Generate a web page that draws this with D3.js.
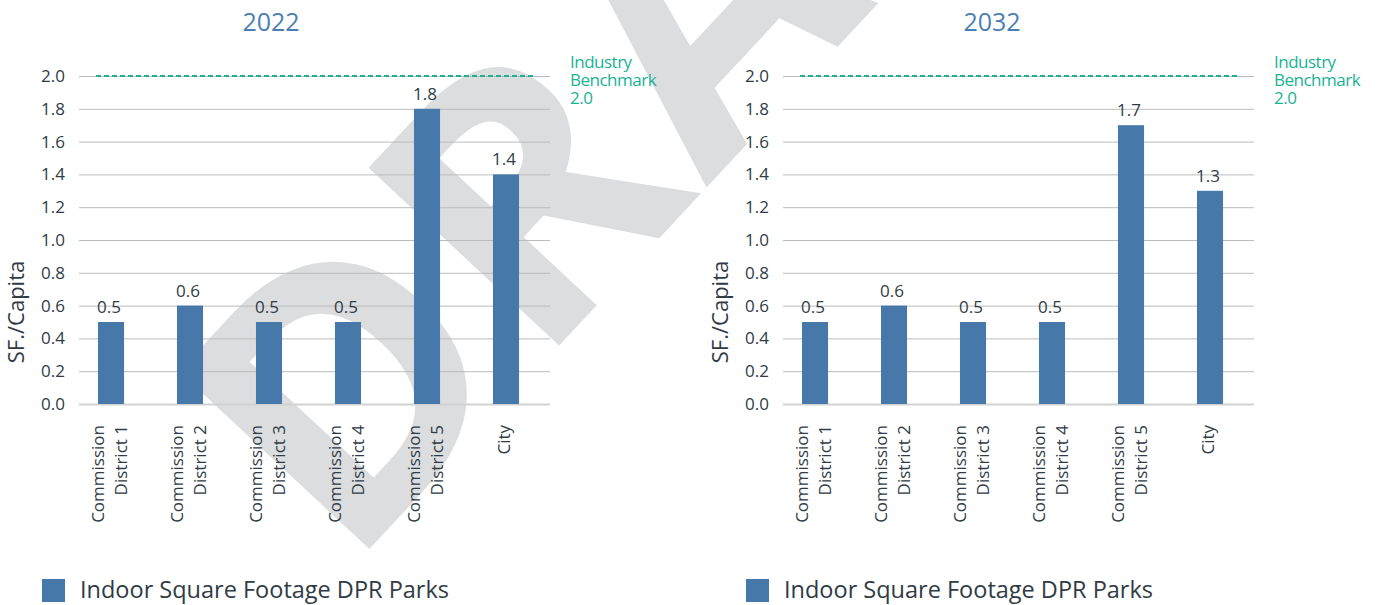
<!DOCTYPE html>
<html>
<head>
<meta charset="utf-8">
<script src="https://cdn.jsdelivr.net/npm/d3@7"></script>
<style>
  body { margin: 0; background: #fff; }
  svg { display: block; }
</style>
</head>
<body>
<svg id="chart" width="1380" height="605"></svg>
<script>
// ---- data ----
const categories = [
  "Commission District 1",
  "Commission District 2",
  "Commission District 3",
  "Commission District 4",
  "Commission District 5",
  "City"
];
const categoryLines = [
  ["Commission", "District 1"],
  ["Commission", "District 2"],
  ["Commission", "District 3"],
  ["Commission", "District 4"],
  ["Commission", "District 5"],
  ["City"]
];
const values2022 = [0.5, 0.6, 0.5, 0.5, 1.8, 1.4];
const values2032 = [0.5, 0.6, 0.5, 0.5, 1.7, 1.3];
const yTicks = [0, 0.2, 0.4, 0.6, 0.8, 1.0, 1.2, 1.4, 1.6, 1.8, 2.0];
const benchmarkValue = 2.0;
const benchmarkLines = ["Industry", "Benchmark", "2.0"];
const panelTitles = ["2022", "2032"];
const yAxisTitle = "SF./Capita";
const legendLabel = "Indoor Square Footage DPR Parks";
const watermarkText = "DRAFT";

// ---- style ----
const FONT = "'Open Sans', 'Noto Sans', sans-serif";
const BAR = "#4679aa";
const TITLE = "#4b7fb1";
const TEAL = "#19b394";
const INK = "#2f3b45";
const GRID = "#bcbcbc";

const svg = d3.select("#chart");

// diagonal watermark behind everything
svg.append("text")
  .attr("transform", "translate(347,573) rotate(-47)")
  .attr("font-family", FONT)
  .attr("font-weight", 700)
  .attr("font-size", 365)
  .attr("letter-spacing", 8)
  .attr("fill", "#dcdddf")
  .text(watermarkText);

const panels = [
  { values: values2022, title: panelTitles[0], dx: 0,   titleX: 271 },
  { values: values2032, title: panelTitles[1], dx: 704, titleX: 992 }
];

const yTop = 76, yBottom = 404;

panels.forEach(p => {
  const x0 = 79 + p.dx, x1 = 550 + p.dx;
  const g = svg.append("g");

  const y = d3.scaleLinear().domain([0, 2]).range([yBottom, yTop]);
  const x = d3.scaleBand()
    .domain(categories)
    .range([x0, x1])
    .paddingInner(0.67)
    .paddingOuter(0.316)
    .align(0.38);

  // title
  g.append("text")
    .attr("x", p.titleX).attr("y", 31)
    .attr("text-anchor", "middle")
    .attr("font-family", FONT).attr("font-size", 25)
    .attr("fill", TITLE)
    .text(p.title);

  // y axis with gridlines
  const yAxis = g.append("g")
    .attr("transform", `translate(${x0},0)`)
    .call(d3.axisLeft(y)
      .tickValues(yTicks)
      .tickFormat(d3.format(".1f"))
      .tickSize(-(x1 - x0))
      .tickPadding(14));
  yAxis.select(".domain").remove();
  yAxis.selectAll(".tick line")
    .attr("stroke", d => d === 0 ? "#d2d2d2" : GRID)
    .attr("stroke-width", d => d === 0 ? 2 : 1);
  yAxis.selectAll(".tick text")
    .attr("font-family", FONT).attr("font-size", 17)
    .attr("fill", INK);

  // y title
  g.append("text")
    .attr("transform", `translate(${24 + p.dx},312) rotate(-90)`)
    .attr("text-anchor", "middle")
    .attr("font-family", FONT).attr("font-size", 22)
    .attr("fill", INK)
    .text(yAxisTitle);

  // benchmark line and label
  g.append("line")
    .attr("x1", x0 + 17).attr("x2", x1 - 15)
    .attr("y1", y(benchmarkValue)).attr("y2", y(benchmarkValue))
    .attr("stroke", TEAL).attr("stroke-width", 2)
    .attr("stroke-dasharray", "5,3");
  const bt = g.append("text")
    .attr("font-family", FONT).attr("font-size", 17)
    .attr("letter-spacing", -0.5)
    .attr("fill", TEAL);
  benchmarkLines.forEach((line, i) => {
    bt.append("tspan")
      .attr("x", 570 + p.dx).attr("y", 68 + i * 18)
      .text(line);
  });

  // bars
  g.selectAll("rect.bar")
    .data(p.values)
    .join("rect")
    .attr("class", "bar")
    .attr("x", (d, i) => x(categories[i]))
    .attr("width", x.bandwidth())
    .attr("y", d => y(d))
    .attr("height", d => y(0) - y(d))
    .attr("fill", BAR);

  // value labels
  g.selectAll("text.val")
    .data(p.values)
    .join("text")
    .attr("class", "val")
    .attr("x", (d, i) => x(categories[i]) + x.bandwidth() / 2 - 2)
    .attr("y", d => y(d) - 9)
    .attr("text-anchor", "middle")
    .attr("font-family", FONT).attr("font-size", 17)
    .attr("fill", INK)
    .text(d => d3.format(".1f")(d));

  // category labels (rotated, aligned to the top)
  categoryLines.forEach((lines, i) => {
    const c = x(categories[i]) + x.bandwidth() / 2;
    const t = g.append("text")
      .attr("transform", `translate(0,425) rotate(-90)`)
      .attr("text-anchor", "end")
      .attr("font-family", FONT).attr("font-size", 17)
      .attr("fill", INK);
    lines.forEach((line, j) => {
      const off = 4 + (j - (lines.length - 1) / 2) * 23;
      t.append("tspan")
        .attr("x", 0)
        .attr("y", c + off)
        .text(line);
    });
  });

  // legend
  g.append("rect")
    .attr("x", 42 + p.dx).attr("y", 579)
    .attr("width", 23).attr("height", 23)
    .attr("fill", BAR);
  g.append("text")
    .attr("x", 80 + p.dx).attr("y", 598)
    .attr("font-family", FONT).attr("font-size", 23.5)
    .attr("fill", INK)
    .text(legendLabel);
});
</script>
</body>
</html>
